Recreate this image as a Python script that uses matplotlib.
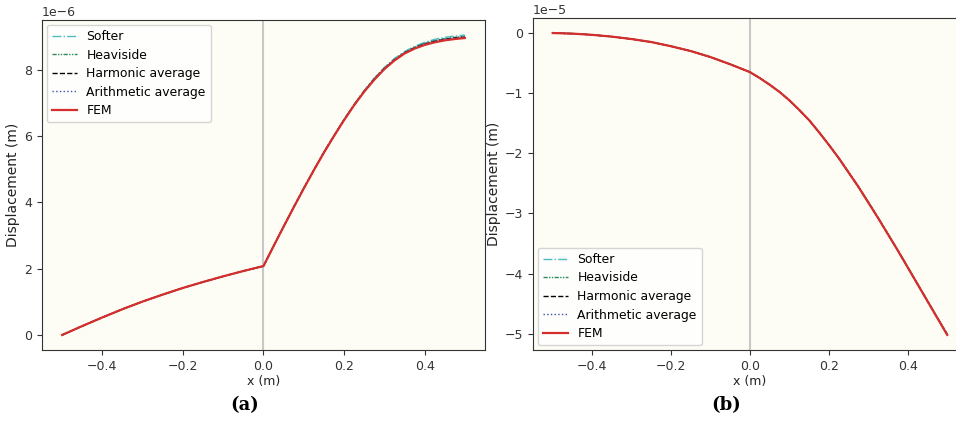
import matplotlib
matplotlib.use('Agg')
import matplotlib.pyplot as plt

plt.rcParams.update({
    'font.family': 'DejaVu Sans',
    'font.size': 9,
    'axes.edgecolor': '#333333',
    'xtick.color': '#333333',
    'ytick.color': '#333333',
    'axes.labelcolor': '#222222',
})

# shared x positions (m)
x = [-0.5, -0.45, -0.4, -0.35, -0.3, -0.25, -0.2, -0.15, -0.1, -0.05, 0.0,
     0.025, 0.05, 0.075, 0.1, 0.125, 0.15, 0.175, 0.2, 0.225, 0.25,
     0.275, 0.3, 0.325, 0.35, 0.375, 0.4, 0.425, 0.45, 0.475, 0.5]

# panel (a), displacement in units of 1e-6 m
fem_a = [0.0, 0.27, 0.53, 0.78, 1.01, 1.22, 1.42, 1.60, 1.77, 1.93, 2.08,
         2.68, 3.27, 3.85, 4.42, 4.97, 5.50, 6.00, 6.48, 6.93, 7.34,
         7.70, 8.02, 8.28, 8.49, 8.64, 8.75, 8.83, 8.89, 8.93, 8.96]
softer_a = [0.0, 0.27, 0.53, 0.78, 1.01, 1.22, 1.42, 1.60, 1.77, 1.93, 2.08,
            2.68, 3.27, 3.86, 4.43, 4.98, 5.52, 6.02, 6.51, 6.96, 7.38,
            7.75, 8.07, 8.34, 8.55, 8.71, 8.83, 8.92, 8.98, 9.02, 9.05]
heaviside_a = [0.0, 0.27, 0.53, 0.78, 1.01, 1.22, 1.42, 1.60, 1.77, 1.93, 2.08,
               2.68, 3.27, 3.86, 4.43, 4.98, 5.51, 6.01, 6.50, 6.95, 7.36,
               7.73, 8.05, 8.31, 8.52, 8.68, 8.80, 8.88, 8.94, 8.98, 9.01]
harmonic_a = [0.0, 0.27, 0.53, 0.78, 1.01, 1.22, 1.42, 1.60, 1.77, 1.93, 2.08,
              2.68, 3.27, 3.85, 4.42, 4.97, 5.51, 6.01, 6.49, 6.94, 7.35,
              7.72, 8.04, 8.30, 8.51, 8.66, 8.78, 8.86, 8.92, 8.96, 8.99]
arith_a = [0.0, 0.27, 0.53, 0.78, 1.01, 1.22, 1.42, 1.60, 1.77, 1.93, 2.08,
           2.68, 3.27, 3.86, 4.43, 4.98, 5.51, 6.01, 6.50, 6.95, 7.36,
           7.73, 8.05, 8.31, 8.52, 8.67, 8.79, 8.87, 8.93, 8.97, 9.00]

# panel (b), displacement in units of 1e-5 m
fem_b = [0.0, -0.01, -0.03, -0.06, -0.10, -0.15, -0.22, -0.30, -0.40, -0.52, -0.65,
         -0.75, -0.86, -0.98, -1.12, -1.28, -1.45, -1.65, -1.86, -2.08, -2.32,
         -2.56, -2.82, -3.08, -3.35, -3.62, -3.90, -4.18, -4.46, -4.74, -5.02]
softer_b = [0.0, -0.01, -0.03, -0.06, -0.10, -0.15, -0.22, -0.30, -0.40, -0.52, -0.65,
            -0.75, -0.86, -0.98, -1.12, -1.28, -1.45, -1.65, -1.86, -2.08, -2.31,
            -2.55, -2.81, -3.07, -3.34, -3.61, -3.89, -4.17, -4.45, -4.73, -5.00]
heaviside_b = [0.0, -0.01, -0.03, -0.06, -0.10, -0.15, -0.22, -0.30, -0.40, -0.52, -0.65,
               -0.75, -0.86, -0.98, -1.12, -1.28, -1.45, -1.65, -1.86, -2.08, -2.32,
               -2.56, -2.81, -3.08, -3.35, -3.62, -3.90, -4.18, -4.46, -4.74, -5.01]
harmonic_b = fem_b
arith_b = heaviside_b

labels = ['Softer', 'Heaviside', 'Harmonic average', 'Arithmetic average', 'FEM']
styles = [
    dict(color='#4dbdbd', ls='-.', lw=1.0),
    dict(color='#2e8b57', ls=(0, (3, 1, 1, 1, 1, 1)), lw=1.0),
    dict(color='black', ls='--', lw=1.0),
    dict(color='#3b4fa8', ls=':', lw=1.0),
    dict(color='#d62d2d', ls='-', lw=1.6),
]

fig = plt.figure(figsize=(9.56, 4.23), dpi=100)
bg = '#fdfdf5'

ax1 = fig.add_axes([0.0439, 0.1726, 0.4634, 0.780])
ax2 = fig.add_axes([0.5575, 0.1726, 0.454, 0.785])

for ax, series, scale, loc in [
    (ax1, [softer_a, heaviside_a, harmonic_a, arith_a, fem_a], 1e-6, 'upper left'),
    (ax2, [softer_b, heaviside_b, harmonic_b, arith_b, fem_b], 1e-5, 'lower left'),
]:
    ax.set_facecolor(bg)
    ax.axvline(0, color='#c8c8c8', lw=1.5, zorder=0)
    for lab, st, ys in zip(labels, styles, series):
        ax.plot(x, [v * scale for v in ys], label=lab, **st)
    ax.set_xlim(-0.55, 0.55)
    ax.set_xticks([-0.4, -0.2, 0.0, 0.2, 0.4])
    ax.set_xlabel('x (m)', fontsize=9, labelpad=2)
    ax.set_ylabel('Displacement (m)', fontsize=10, labelpad=3)
    ax.legend(loc=loc, fontsize=8.9, framealpha=0.8, edgecolor='#cccccc',
              borderaxespad=0.4, labelspacing=0.45)

fig.text(0.256, 0.03, '(a)', ha='center', fontsize=13, fontweight='bold', family='DejaVu Serif')
fig.text(0.760, 0.03, '(b)', ha='center', fontsize=13, fontweight='bold', family='DejaVu Serif')

fig.savefig('out.png', dpi=100)
